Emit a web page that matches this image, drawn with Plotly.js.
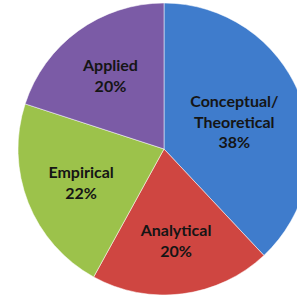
<!DOCTYPE html>
<html>
<head>
<meta charset="utf-8">
<script src="https://cdn.plot.ly/plotly-3.0.1.min.js"></script>
<style>
html,body{margin:0;padding:0;overflow:hidden;background:#fff;width:297px;height:295px;}
#chart{width:314px;height:295px;}
</style>
</head>
<body>
<div id="chart"></div>
<script>
const categories = ["Conceptual/<br>Theoretical", "Analytical", "Empirical", "Applied"];
const shares = [38, 20, 22, 20];
const colors = ["#3f7ccc", "#cf4641", "#9cc24b", "#7b5ba6"];

Plotly.newPlot("chart", [{
  type: "pie",
  labels: categories,
  values: shares,
  sort: false,
  direction: "clockwise",
  rotation: 0,
  marker: {colors: colors, line: {color: "rgba(255,255,255,0.5)", width: 1}},
  texttemplate: "%{label}<br>%{percent:.0%}",
  textposition: "inside",
  insidetextorientation: "horizontal",
  textfont: {family: "Lato, 'Open Sans', sans-serif", size: 16, color: "#151515", weight: "bold"},
  hoverinfo: "none",
  domain: {x: [0, 1], y: [0, 1]}
}], {
  width: 314, height: 295,
  margin: {l: 17, r: 3, t: 3, b: 0},
  showlegend: false,
  paper_bgcolor: "#fff"
}, {staticPlot: true, displayModeBar: false});
</script>
</body>
</html>
